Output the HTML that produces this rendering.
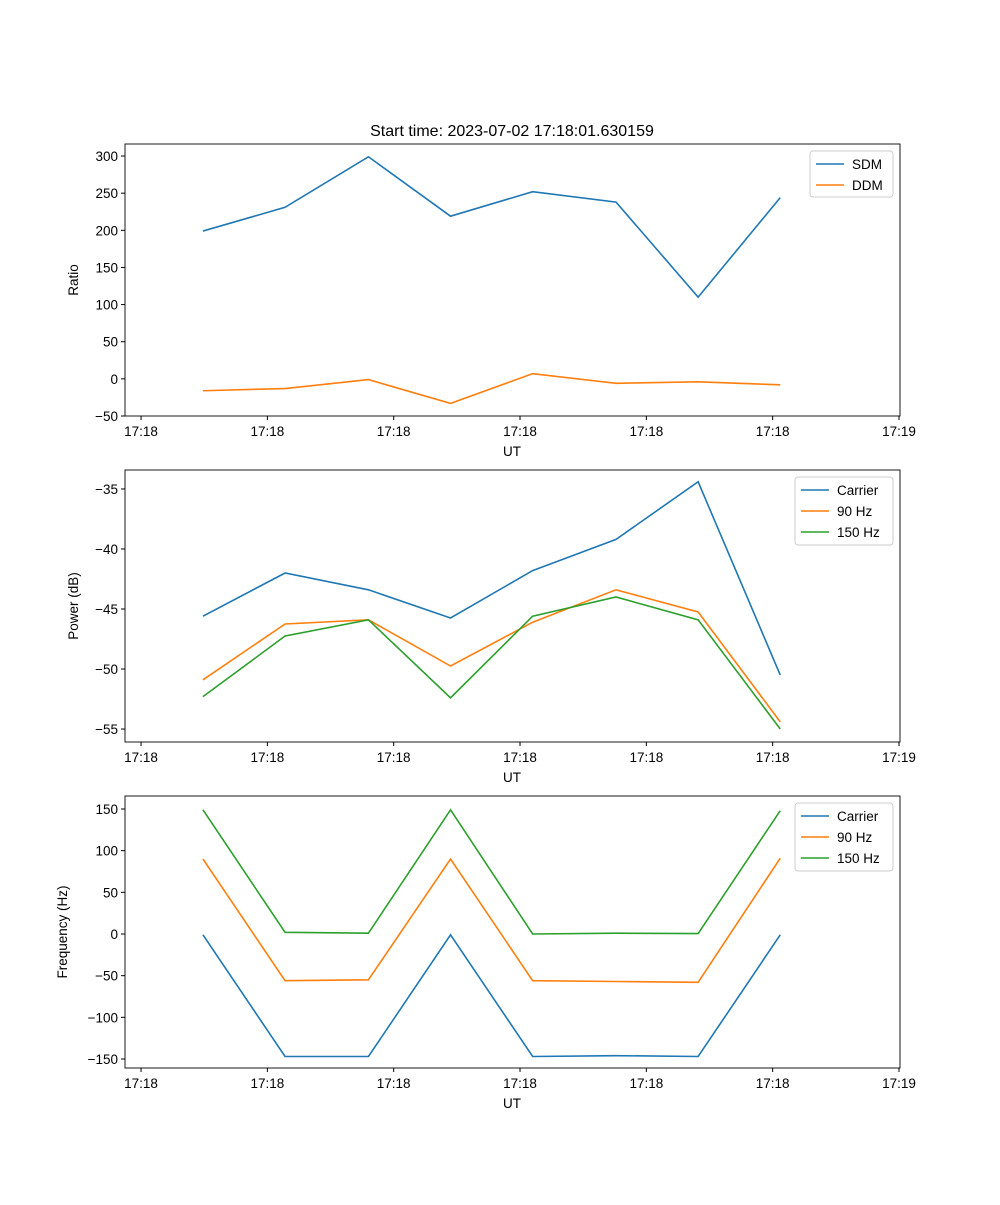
<!DOCTYPE html>
<html><head><meta charset="utf-8"><style>
body{margin:0;background:#fff}
svg text{font-family:"Liberation Sans","DejaVu Sans",sans-serif;font-size:13.5px;fill:#000}
</style></head><body>
<svg id="fig" width="1000" height="1200" xmlns="http://www.w3.org/2000/svg">
<rect width="1000" height="1200" fill="#fff"/>
<text x="512" y="136" text-anchor="middle" font-size="16" style="font-size:16px">Start time: 2023-07-02 17:18:01.630159</text>
</svg>
<script>
const times=[4.9,11.4,18.0,24.5,31.0,37.6,44.1,50.6];
const xTicks=[0,10,20,30,40,50,60];
const xTickLabels=["17:18","17:18","17:18","17:18","17:18","17:18","17:19"];
const sdm=[199,231,299,219,252,238,110,244];
const ddm=[-16,-13,-1,-33,7,-6,-4,-8];
const pCarrier=[-45.6,-42.0,-43.4,-45.75,-41.8,-39.2,-34.4,-50.5];
const p90=[-50.9,-46.25,-45.9,-49.75,-46.1,-43.4,-45.25,-54.4];
const p150=[-52.3,-47.25,-45.9,-52.4,-45.6,-44.0,-45.9,-55.0];
const fCarrier=[-1,-147,-147,-1,-147,-146,-147,-1];
const f90=[90,-56,-55,90,-56,-57,-58,91];
const f150=[149,2,1,149,0,1,0.5,148];
const yTicks1=[-50,0,50,100,150,200,250,300];
const yTicks2=[-55,-50,-45,-40,-35];
const yTicks3=[-150,-100,-50,0,50,100,150];
const C=['#1f77b4','#ff7f0e','#2ca02c'];
const svg=document.getElementById('fig');
const NS='http://www.w3.org/2000/svg';
function mk(tag,at,parent){const e=document.createElementNS(NS,tag);for(const k in at)e.setAttribute(k,at[k]);(parent||svg).appendChild(e);return e;}
const L=125,R=900,xmin=-1.27,xmax=60.08;
const X=t=>L+(t-xmin)/(xmax-xmin)*(R-L);
function panel(id,top,bot,ymin,ymax,yticks,fmt,ylabel,series,names,legW,ylOff){
  const Y=v=>bot-(v-ymin)/(ymax-ymin)*(bot-top);
  const g=mk('g',{});
  
  
  series.forEach((s,i)=>{
    const pl=mk('polyline',{points:s.map((v,j)=>X(times[j])+','+Y(v)).join(' '),fill:'none',stroke:C[i],'stroke-width':1.6},g);
    
    
  });
  const fr=mk('rect',{x:L,y:top,width:R-L,height:bot-top,fill:'none',stroke:'#000','stroke-width':0.9},g);
  
  
  xTicks.forEach((t,i)=>{const x=X(t);mk('line',{x1:x,x2:x,y1:bot,y2:bot+4,stroke:'#000'},g);
    const tx=mk('text',{x:x,y:bot+20,'text-anchor':'middle'},g);tx.textContent=xTickLabels[i];
    
    });
  yticks.forEach(v=>{const y=Y(v);mk('line',{x1:L-4,x2:L,y1:y,y2:y,stroke:'#000'},g);
    const tx=mk('text',{x:L-7,y:y+5,'text-anchor':'end'},g);tx.textContent=fmt(v);
    
    });
  const xl=mk('text',{x:512,y:bot+40,'text-anchor':'middle'},g);xl.textContent='UT';
  
  
  const yl=mk('text',{x:0,y:0,'text-anchor':'middle',transform:`translate(${L-ylOff},${(top+bot)/2}) rotate(-90)`},g);yl.textContent=ylabel;
  
  
  const lg=mk('g',{},g);
  
  
  const lx=R-7-legW,ly=top+7;
  mk('rect',{x:lx,y:ly,width:legW,height:names.length*22+2,fill:'#fff',stroke:'#ccc',rx:3},lg);
  names.forEach((n,i)=>{const yy=ly+13+i*21;
    mk('line',{x1:lx+6,x2:lx+34,y1:yy,y2:yy,stroke:C[i],'stroke-width':1.6},lg);
    const t=mk('text',{x:lx+42,y:yy+5},lg);t.textContent=n;
    
    });
}
const m=v=>v<0?'\u2212'+Math.abs(v):''+v;
panel('ratio-panel',144,416,-50,316.2,yTicks1,m,'Ratio',[sdm,ddm],['SDM','DDM'],83,47);
panel('power-panel',470,742,-56.08,-33.42,yTicks2,m,'Power (dB)',[pCarrier,p90,p150],['Carrier','90 Hz','150 Hz'],98,47);
panel('frequency-panel',796,1068,-160.8,165.6,yTicks3,m,'Frequency (Hz)',[fCarrier,f90,f150],['Carrier','90 Hz','150 Hz'],98,58);
</script>
</body></html>
